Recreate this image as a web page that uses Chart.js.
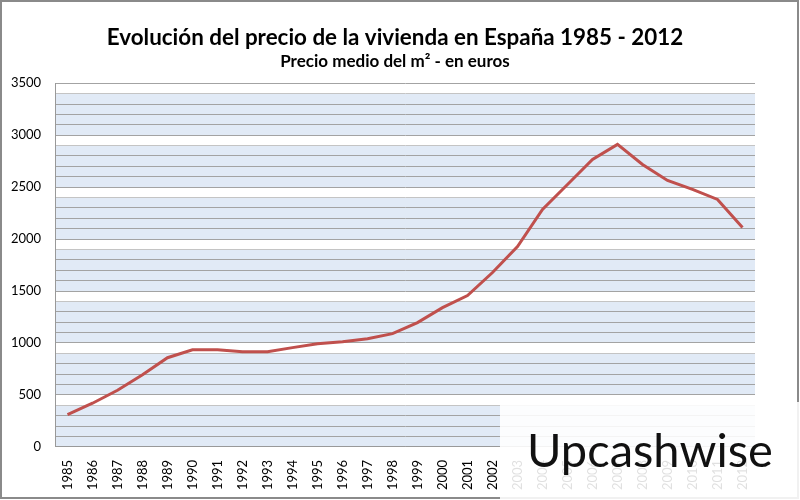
<!DOCTYPE html>
<html>
<head>
<meta charset="utf-8">
<script src="https://cdn.jsdelivr.net/npm/chart.js@4"></script>
<style>
  body { margin: 0; background: #fff; }
  #wrap { position: relative; width: 800px; height: 500px; }
  #mark {
    position: absolute; left: 500px; top: 402px; width: 300px; height: 98px;
    background: rgba(255, 255, 255, 0.88);
    font-family: Lato, sans-serif; font-size: 47px; color: #111;
    line-height: 94px; padding-left: 27px; box-sizing: border-box;
  }
</style>
</head>
<body>
<div id="wrap">
  <canvas id="chart" width="800" height="500"></canvas>
  <div id="mark">Upcashwise</div>
</div>
<script>
// Precio medio del m2 (euros)
const years = ['1985', '1986', '1987', '1988', '1989', '1990', '1991', '1992', '1993', '1994',
               '1995', '1996', '1997', '1998', '1999', '2000', '2001', '2002', '2003', '2004',
               '2005', '2006', '2007', '2008', '2009', '2010', '2011', '2012'];
const prices = [310, 420, 545, 694, 858, 935, 935, 916, 916, 955,
                993, 1012, 1041, 1090, 1196, 1340, 1456, 1678, 1928, 2285,
                2526, 2767, 2912, 2719, 2565, 2478, 2382, 2112];
const yMax = 3500;

// fondo a bandas del area de trazado + marco exterior
const bands = {
    id: 'bands',
    beforeDraw(chart) {
        const { ctx, chartArea: a, scales: { y } } = chart;
        ctx.save();
        ctx.fillStyle = '#e1eaf6';
        ctx.fillRect(a.left, a.top, a.width, a.height);
        ctx.fillStyle = '#ffffff';
        for (let v = 500; v <= yMax; v += 500) {
            const top = y.getPixelForValue(v);
            const bot = y.getPixelForValue(v - 100);
            ctx.fillRect(a.left, top, a.width, bot - top);
        }
        ctx.restore();
    },
    afterDraw(chart) {
        const ctx = chart.ctx;
        ctx.save();
        ctx.strokeStyle = '#8a8a8a';
        ctx.lineWidth = 2;
        ctx.strokeRect(1, 1, chart.width - 3, chart.height - 3);
        ctx.restore();
    }
};

const ctx = document.getElementById('chart').getContext('2d');
new Chart(ctx, {
    type: 'line',
    data: {
        labels: years,
        datasets: [{
            data: prices,
            borderColor: '#c0504d',
            borderWidth: 3,
            pointRadius: 0,
            tension: 0,
            fill: false
        }]
    },
    options: {
        responsive: false,
        animation: false,
        layout: { padding: { left: 35, right: 45, top: 24, bottom: 5 } },
        plugins: {
            legend: { display: false },
            tooltip: { enabled: false },
            title: {
                display: true,
                text: 'Evolución del precio de la vivienda en España 1985 - 2012',
                color: '#000',
                font: { family: 'Lato', size: 22.4, weight: 'bold' },
                padding: { top: 0, bottom: 0 }
            },
            subtitle: {
                display: true,
                text: 'Precio medio del m² - en euros',
                color: '#000',
                font: { family: 'Lato', size: 17, weight: 'bold' },
                padding: { top: 0, bottom: 12 }
            }
        },
        scales: {
            x: {
                offset: true,
                grid: { display: false },
                border: { display: true, color: '#999' },
                ticks: {
                    autoSkip: false, maxRotation: 90, minRotation: 90,
                    color: '#000', padding: 5,
                    font: { family: 'Lato', size: 13 }
                }
            },
            y: {
                min: 0,
                max: yMax,
                afterFit(scale) { scale.width = 20; },
                grid: {
                    drawTicks: false,
                    color: c => (c.tick && c.tick.value % 500 === 400) ? '#c4c4c4' : '#a3a3a3',
                    lineWidth: 1
                },
                border: { display: true, color: '#999' },
                ticks: {
                    stepSize: 100,
                    maxTicksLimit: 40,
                    autoSkip: false,
                    mirror: true,
                    crossAlign: 'far',
                    padding: -44,
                    color: '#000',
                    font: { family: 'Lato', size: 13 },
                    callback: v => (v % 500 === 0 ? v : '')
                }
            }
        }
    },
    plugins: [bands]
});
</script>
</body>
</html>
